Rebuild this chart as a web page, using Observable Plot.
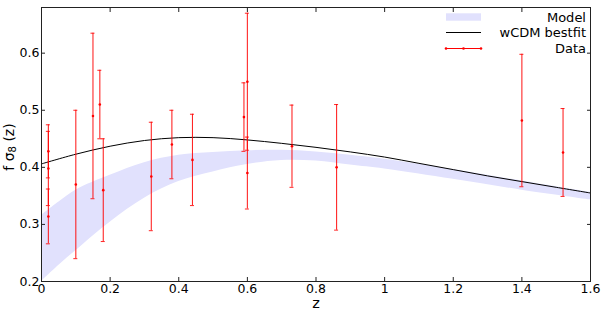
<!DOCTYPE html>
<html><head><meta charset="utf-8">
<script src="https://cdn.jsdelivr.net/npm/d3@7"></script>
<script src="https://cdn.jsdelivr.net/npm/@observablehq/plot@0.6"></script>
<style>body{margin:0;background:#fff;} #chart{width:603px;height:311px;}</style>
</head><body><div id="chart"></div>
<script>
// Tick values
const xTicks = [0, 0.2, 0.4, 0.6, 0.8, 1, 1.2, 1.4, 1.6];
const yTicks = [0.2, 0.3, 0.4, 0.5, 0.6];

// Data points (growth-rate measurements)
const dataZ   = [0.02, 0.02, 0.02, 0.10, 0.15, 0.17, 0.18, 0.32, 0.38, 0.44, 0.59, 0.60, 0.60, 0.73, 0.86, 1.40, 1.52];
const dataF   = [0.428, 0.398, 0.314, 0.370, 0.490, 0.510, 0.360, 0.384, 0.440, 0.413, 0.488, 0.550, 0.390, 0.437, 0.400, 0.482, 0.426];
const dataErr = [0.0465, 0.065, 0.048, 0.130, 0.145, 0.060, 0.090, 0.095, 0.060, 0.080, 0.060, 0.120, 0.063, 0.072, 0.110, 0.116, 0.077];

// Model band
const bandZ  = [0, 0.05, 0.1, 0.2, 0.3, 0.4, 0.5, 0.6, 0.7, 0.8, 0.9, 1.0, 1.2, 1.4, 1.6];
const bandLo = [0.200, 0.228, 0.254, 0.304, 0.346, 0.375, 0.392, 0.405, 0.412, 0.411, 0.404, 0.397, 0.379, 0.360, 0.343];
const bandHi = [0.316, 0.339, 0.360, 0.386, 0.408, 0.421, 0.426, 0.429, 0.430, 0.427, 0.421, 0.414, 0.396, 0.376, 0.356];

// wCDM best fit
const fitZ = [0, 0.1, 0.2, 0.3, 0.4, 0.5, 0.6, 0.7, 0.8, 0.9, 1.0, 1.1, 1.2, 1.3, 1.4, 1.5, 1.6];
const fitV = [0.406, 0.423, 0.437, 0.447, 0.452, 0.452, 0.448, 0.442, 0.435, 0.427, 0.418, 0.407, 0.396, 0.385, 0.375, 0.365, 0.355];

const pts = dataZ.map((z, i) => ({z, f: dataF[i], lo: dataF[i] - dataErr[i], hi: dataF[i] + dataErr[i]}));
const band = bandZ.map((z, i) => ({z, lo: bandLo[i], hi: bandHi[i]}));
const fit = fitZ.map((z, i) => ({z, v: fitV[i]}));

const fmt = d => String(d);
const none = () => "";
const FONT = "DejaVu Sans, sans-serif";

const svg = Plot.plot({
  width: 603, height: 311,
  marginLeft: 41, marginRight: 13, marginTop: 7, marginBottom: 30,
  x: {domain: [0, 1.6]},
  y: {domain: [0.2, 0.68]},
  style: {fontFamily: FONT, fontSize: "12.5px", color: "black", background: "white"},
  marks: [
    Plot.areaY(band, {x: "z", y1: "lo", y2: "hi", fill: "#e1e1fd", curve: "catmull-rom"}),
    Plot.line(fit, {x: "z", y: "v", stroke: "black", strokeWidth: 1, curve: "catmull-rom"}),
    Plot.ruleX(pts, {x: "z", y1: "lo", y2: "hi", stroke: "red", strokeWidth: 1.1, strokeOpacity: 0.85}),
    Plot.ruleY(pts, {y: "lo", x1: "z", x2: "z", insetLeft: -2, insetRight: -2, stroke: "red", strokeOpacity: 0.85}),
    Plot.ruleY(pts, {y: "hi", x1: "z", x2: "z", insetLeft: -2, insetRight: -2, stroke: "red", strokeOpacity: 0.85}),
    Plot.dot(pts, {x: "z", y: "f", r: 1.3, fill: "red", stroke: null}),
    Plot.frame({stroke: "#222"}),
    Plot.axisX({ticks: xTicks, anchor: "bottom", tickSize: 0, tickPadding: 3, tickFormat: fmt, label: null}),
    Plot.axisY({ticks: yTicks, anchor: "left", tickSize: 0, tickPadding: 2, tickFormat: fmt, label: null}),
    Plot.axisX({ticks: xTicks, anchor: "bottom", tickSize: 4, insetBottom: 4, tickFormat: none, label: null, stroke: "#222"}),
    Plot.axisX({ticks: xTicks, anchor: "top", tickSize: 4, insetTop: 4, tickFormat: none, label: null, stroke: "#222"}),
    Plot.axisY({ticks: yTicks, anchor: "left", tickSize: 4, insetLeft: 4, tickFormat: none, label: null, stroke: "#222"}),
    Plot.axisY({ticks: yTicks, anchor: "right", tickSize: 4, insetRight: 4, tickFormat: none, label: null, stroke: "#222"}),
    Plot.text(["z"], {text: d => d, frameAnchor: "bottom", dy: 21.5, fontSize: 14.5, lineAnchor: "middle"})
  ]
});
document.getElementById("chart").appendChild(svg);

// Y-axis label with subscript
const s = d3.select(svg);
const yl = s.append("text")
  .attr("transform", "translate(9,147) rotate(-90)")
  .attr("text-anchor", "middle")
  .attr("dominant-baseline", "central")
  .attr("font-family", FONT).attr("font-size", 14).attr("fill", "black");
yl.append("tspan").text("f σ");
yl.append("tspan").attr("font-size", 10).attr("dy", 3).text("8");
yl.append("tspan").attr("dy", -3).text(" (z)");

// Legend (inside the plot, top right)
const legendItems = ["Model", "wCDM bestfit", "Data"];
const rowY = [17, 32.5, 48.5];
const lg = s.append("g").attr("font-family", FONT).attr("font-size", 13);
lg.append("rect").attr("x", 446).attr("y", rowY[0] - 3.7).attr("width", 35).attr("height", 7.4).attr("fill", "#e1e1fd");
lg.append("line").attr("x1", 446).attr("x2", 481).attr("y1", rowY[1]).attr("y2", rowY[1]).attr("stroke", "black");
lg.append("line").attr("x1", 446).attr("x2", 481).attr("y1", rowY[2]).attr("y2", rowY[2]).attr("stroke", "red");
[446, 463.5, 481].forEach(x => lg.append("circle").attr("cx", x).attr("cy", rowY[2]).attr("r", 1.3).attr("fill", "red"));
legendItems.forEach((t, i) => lg.append("text").attr("x", 586).attr("y", rowY[i]).attr("text-anchor", "end")
  .attr("dominant-baseline", "central").attr("fill", "black").text(t));
</script>
</body></html>
